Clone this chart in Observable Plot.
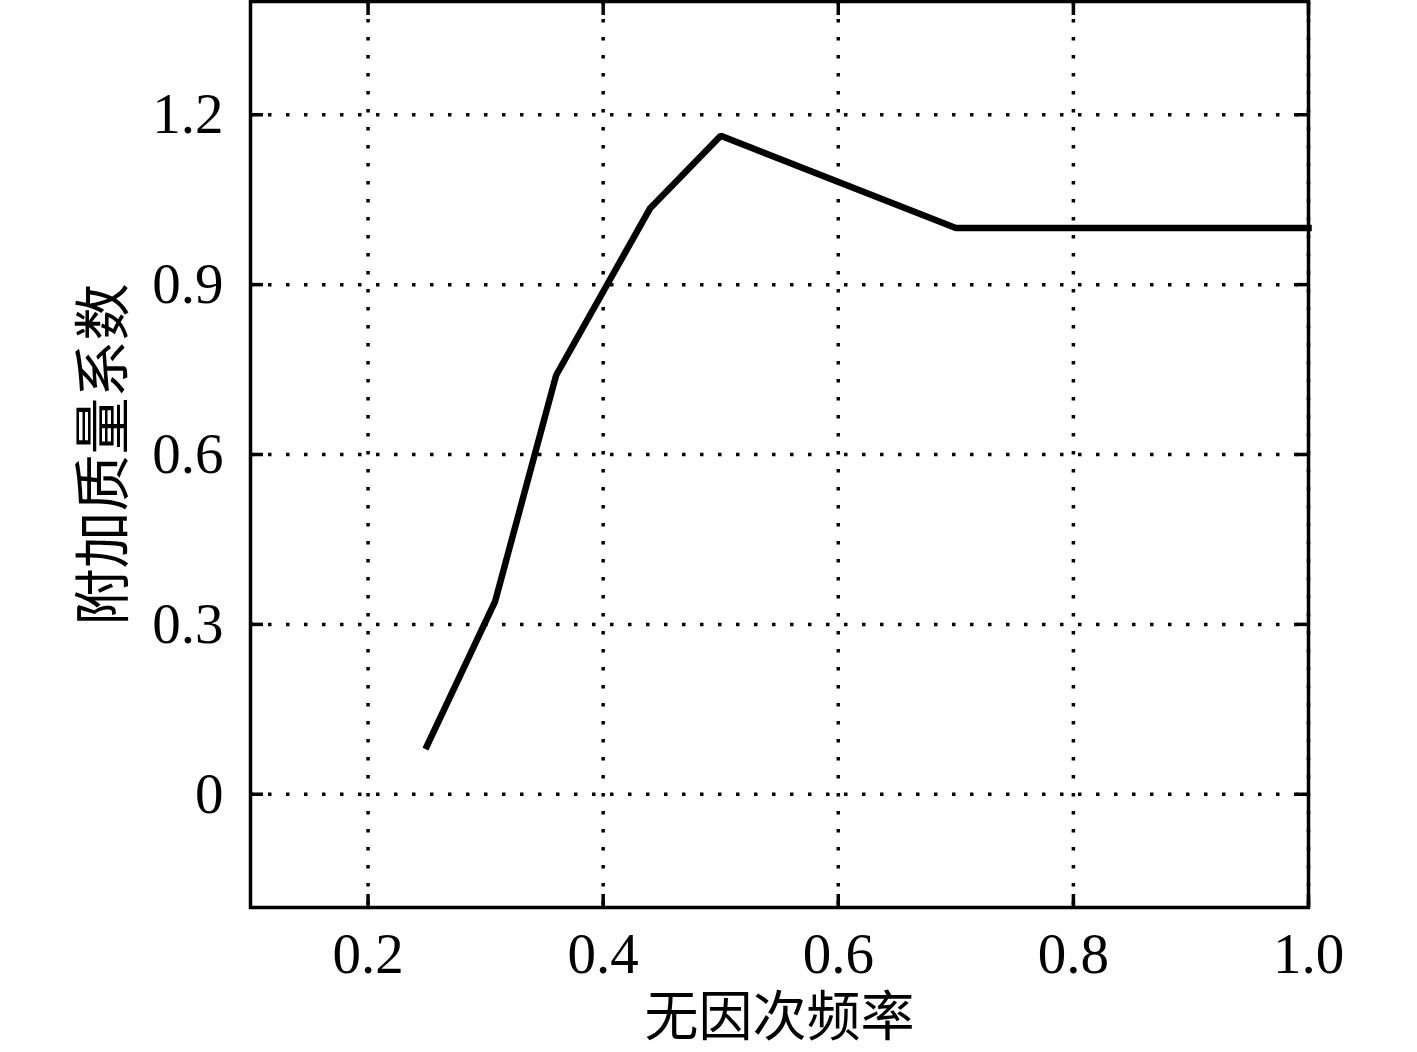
<!DOCTYPE html>
<html>
<head>
<meta charset="utf-8">
<script src="https://cdn.jsdelivr.net/npm/d3@7"></script>
<script src="https://cdn.jsdelivr.net/npm/@observablehq/plot@0.6"></script>
<style>
  html, body { margin: 0; padding: 0; background: #fff; }
  #chart { width: 1417px; height: 1052px; }
</style>
</head>
<body>
<div id="chart"></div>
<script>
// Data
const freq = [0.25, 0.308, 0.36, 0.44, 0.50, 0.70, 1.0];
const massCoef = [0.085, 0.34, 0.74, 1.035, 1.163, 1.0, 1.0];

const xTicks = [0.2, 0.4, 0.6, 0.8, 1.0];
const xTickLabels = ["0.2", "0.4", "0.6", "0.8", "1.0"];
const yTicks = [0, 0.3, 0.6, 0.9, 1.2];
const yTickLabels = ["0", "0.3", "0.6", "0.9", "1.2"];

const xLabel = "无因次频率";
const yLabel = "附加质量系数";

const points = freq.map((x, i) => ({x, y: massCoef[i]}));

const serif = "'Liberation Serif', 'DejaVu Serif', serif";
const cjk = "'Noto Sans CJK SC', sans-serif";

const chart = Plot.plot({
  width: 1417,
  height: 1052,
  marginLeft: 250,
  marginRight: 109,
  marginTop: 1,
  marginBottom: 145,
  style: {background: "#fff", color: "black", fontFamily: serif},
  x: {domain: [0.1, 1.0]},
  y: {domain: [-0.2, 1.4]},
  marks: [
    Plot.gridX(xTicks, {stroke: "black", strokeOpacity: 1, strokeWidth: 3.5, strokeDasharray: "3.5,14.5"}),
    Plot.gridY(yTicks, {stroke: "black", strokeOpacity: 1, strokeWidth: 3.5, strokeDasharray: "3.5,14.5"}),
    Plot.line(points, {x: "x", y: "y", stroke: "black", strokeWidth: 6.5, strokeLinejoin: "miter", strokeLinecap: "square"}),
    // inward ticks on all sides
    Plot.axisX(xTicks, {anchor: "bottom", tickSize: -13, strokeWidth: 3.5, fill: "none", label: null}),
    Plot.axisX(xTicks, {anchor: "top", tickSize: -13, strokeWidth: 3.5, fill: "none", label: null}),
    Plot.axisY(yTicks, {anchor: "left", tickSize: -13, strokeWidth: 3.5, fill: "none", label: null}),
    Plot.axisY(yTicks, {anchor: "right", tickSize: -13, strokeWidth: 3.5, fill: "none", label: null}),
    // tick labels
    Plot.axisX(xTicks, {anchor: "bottom", tickSize: 0, tickPadding: 25, fontSize: 57, fontFamily: serif, fill: "black",
      tickFormat: (d, i) => xTickLabels[i], label: null}),
    Plot.axisY(yTicks, {anchor: "left", tickSize: 0, tickPadding: 27, fontSize: 57, fontFamily: serif, fill: "black",
      tickFormat: (d, i) => yTickLabels[i], label: null}),
    Plot.frame({stroke: "black", strokeWidth: 3.5}),
    // axis titles
    Plot.text([xLabel], {frameAnchor: "bottom", dy: 111, lineAnchor: "middle", textAnchor: "middle", fontSize: 54, fontFamily: cjk, fill: "black", text: d => d}),
    Plot.text([yLabel], {frameAnchor: "left", dx: -146, rotate: -90, lineAnchor: "middle", textAnchor: "middle", fontSize: 57, fontFamily: cjk, fill: "black", text: d => d})
  ]
});
document.getElementById("chart").appendChild(chart);
</script>
</body>
</html>
